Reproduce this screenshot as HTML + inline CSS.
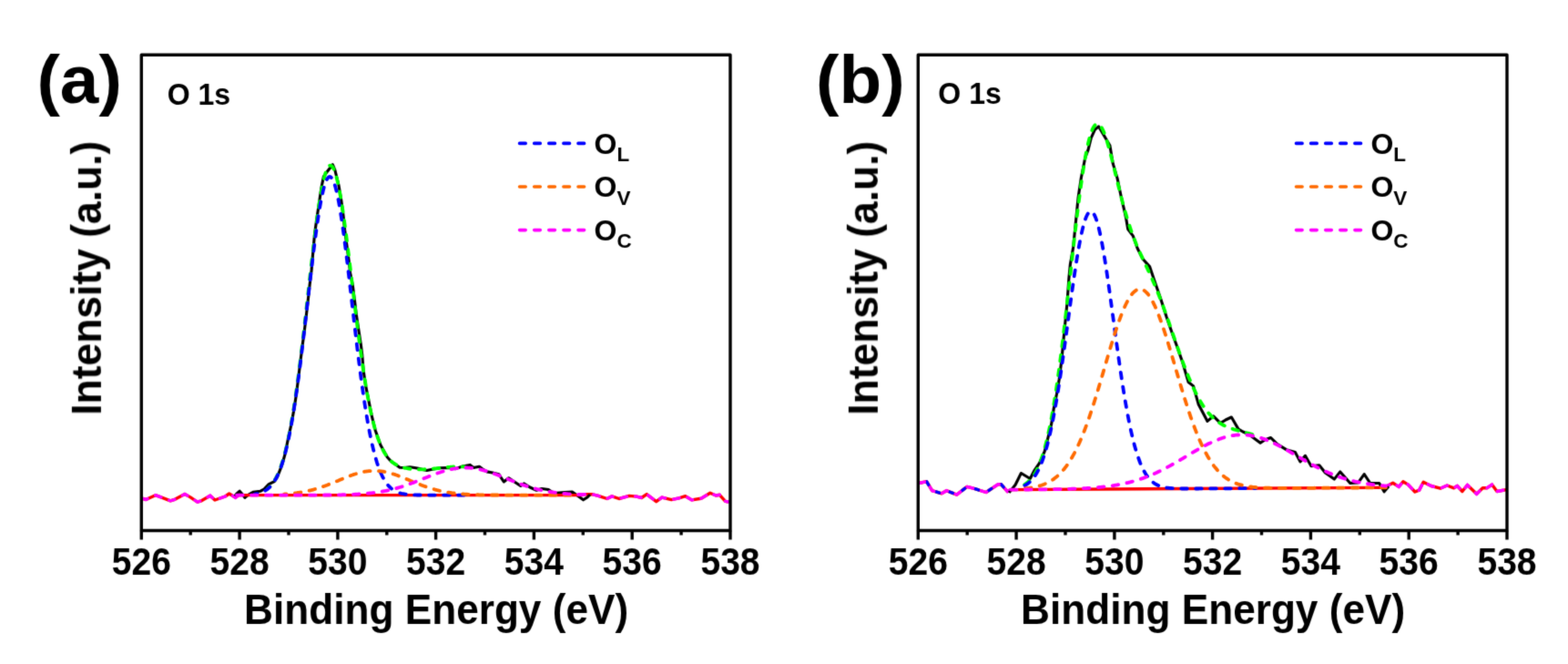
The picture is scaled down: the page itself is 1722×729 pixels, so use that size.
<!DOCTYPE html>
<html><head><meta charset="utf-8"><style>
html,body{margin:0;padding:0;background:#fff;}
svg{display:block;}
text{font-family:"Liberation Sans",Arial,sans-serif;font-weight:bold;fill:#000;}
.tk{font-size:42px;}
.ax{font-size:46.5px;}
.pl{font-size:75px;}
.o1{font-size:33.4px;}
.lg{font-size:32px;}
.sb{font-size:22.5px;}
</style></head><body>
<svg width="1722" height="729" viewBox="0 0 1722 729">
<defs><filter id="bl" filterUnits="userSpaceOnUse" x="0" y="0" width="1722" height="729" color-interpolation-filters="sRGB"><feConvolveMatrix order="3" kernelMatrix="0.01690 0.09620 0.01690 0.09620 0.54760 0.09620 0.01690 0.09620 0.01690" divisor="1" edgeMode="duplicate" preserveAlpha="false"/></filter></defs>
<rect width="1722" height="729" fill="#fff"/>
<g filter="url(#bl)">
<path d="M155.9 547.2L160.2 548.5L170.7 543.7L176.8 545.9L187.2 549.8L192.5 548.1L202.9 542.4L209.0 545.9L216.8 551.1L221.2 549.8L230.8 544.2L236.0 549.0L247.3 545.0L251.7 542.0L258.7 546.3L262.0 543.6" fill="none" stroke="#ff0000" stroke-width="3.4" stroke-linejoin="round"/>
<path d="M155.9 547.2L160.2 548.5L170.7 543.7L176.8 545.9L187.2 549.8L192.5 548.1L202.9 542.4L209.0 545.9L216.8 551.1L221.2 549.8L230.8 544.2L236.0 549.0L247.3 545.0L251.7 542.0L258.7 546.3L262.0 543.6" fill="none" stroke="#ff00ff" stroke-width="3.4" stroke-dasharray="6.6 9.4" stroke-linecap="round"/>
<path d="M636.0 543.8L641.0 542.7L650.2 542.7L657.1 544.4L666.7 547.5L672.0 544.9L679.8 547.5L691.1 544.4L699.1 545.1L704.6 546.5L710.2 542.6L720.7 550.7L726.9 546.1L737.4 548.6L745.7 546.8L752.7 544.7L759.7 548.9L770.1 547.2L779.9 541.3L786.2 544.0L790.3 543.3L796.6 550.3L800.0 551.0" fill="none" stroke="#ff0000" stroke-width="3.4" stroke-linejoin="round"/>
<path d="M636.0 543.8L641.0 542.7L650.2 542.7L657.1 544.4L666.7 547.5L672.0 544.9L679.8 547.5L691.1 544.4L699.1 545.1L704.6 546.5L710.2 542.6L720.7 550.7L726.9 546.1L737.4 548.6L745.7 546.8L752.7 544.7L759.7 548.9L770.1 547.2L779.9 541.3L786.2 544.0L790.3 543.3L796.6 550.3L800.0 551.0" fill="none" stroke="#ff00ff" stroke-width="3.4" stroke-dasharray="6.6 9.4" stroke-linecap="round"/>
<path d="M258.0 544.5L259.8 542.2L263.2 539.2L265.8 542.2L268.9 546.4L272.6 543.4L277.9 540.3L286.2 539.2L290.0 537.0L295.2 531.7L301.3 528.7L304.3 524.1L307.3 516.6L309.6 510.6L311.8 503.0L313.0 498.8L316.3 482.4L319.9 465.9L322.9 449.4L325.4 432.9L327.5 416.5L329.5 400.0L332.2 378.8L334.4 362.4L336.4 345.9L338.3 329.4L340.1 312.9L342.1 296.5L343.5 280.0L345.5 257.3L348.0 239.2L350.5 222.7L352.9 206.2L355.4 193.9L358.5 189.5L365.3 180.7L367.8 186.5L371.9 203.0L374.8 220.0L377.0 236.5L378.7 253.0L380.9 269.5L383.1 285.9L384.7 300.0L387.3 312.9L389.4 329.4L391.4 345.9L393.9 362.4L396.4 378.8L397.8 390.0L399.1 406.5L401.5 422.9L404.8 439.4L408.1 455.9L412.2 472.4L418.0 488.8L425.4 502.0L429.7 506.7L434.5 510.0L439.0 513.2L444.0 513.5L450.2 512.8L455.0 513.5L459.5 514.2L464.0 515.6L468.8 516.5L476.0 515.0L483.6 513.7L492.0 513.5L500.4 514.6L508.0 512.0L516.2 510.4L520.0 513.5L526.4 512.3L530.0 515.0L534.8 517.9L541.0 519.0L547.8 520.7L553.3 529.0L558.7 524.8L565.0 529.0L571.8 533.5L575.3 530.9L582.0 535.0L589.2 538.3L595.0 536.5L602.3 537.5L606.0 540.0L611.0 541.4L620.0 540.5L628.4 540.1L634.0 544.0L640.6 548.8L645.0 546.0L648.0 543.0" fill="none" stroke="#000" stroke-width="3.1" stroke-linejoin="round"/>
<path d="M260.0 543.6L640.0 543.6" fill="none" stroke="#ff0000" stroke-width="3.4"/>
<path d="M294.0 536.5L295.0 535.6L296.0 534.7L297.0 533.6L298.0 532.5L299.0 531.2L300.0 529.8L301.0 528.3L302.0 526.7L303.0 524.9L304.0 523.0L305.0 520.9L306.0 518.6L307.0 516.2L308.0 513.6L309.0 510.7L310.0 507.7L311.0 504.4L312.0 500.9L313.0 497.2L314.0 493.3L315.0 489.1L316.0 484.6L317.0 479.9L318.0 474.9L319.0 469.6L320.0 464.1L321.0 458.3L322.0 452.3L323.0 446.0L324.0 439.4L325.0 432.5L326.0 425.4L327.0 418.1L328.0 410.5L329.0 402.7L330.0 394.7L331.0 386.5L332.0 378.2L333.0 369.6L334.0 361.0L335.0 352.2L336.0 343.4L337.0 334.5L338.0 325.5L339.0 316.6L340.0 307.7L341.0 298.8L342.0 290.0L343.0 281.4L344.0 272.9L345.0 264.6L346.0 256.5L347.0 248.7L348.0 241.2L349.0 234.0L350.0 227.1L351.0 220.7L352.0 214.6L353.0 209.0L354.0 203.9L355.0 199.2L356.0 195.1L357.0 191.5L358.0 188.4L359.0 185.9L360.0 184.0L361.0 182.6L362.0 181.8L363.0 181.6L364.0 182.0L365.0 183.0L366.0 184.6L367.0 186.7L368.0 189.4L369.0 192.6L370.0 196.3L371.0 200.5L372.0 205.2L373.0 210.4L374.0 216.0L375.0 222.0L376.0 228.4L377.0 235.1L378.0 242.1L379.0 249.4L380.0 256.9L381.0 264.6L382.0 272.6L383.0 280.6L384.0 288.8L385.0 297.0L386.0 305.4L387.0 313.7L388.0 322.0L389.0 330.3L390.0 338.5L391.0 346.6L392.0 354.6L393.0 362.5L394.0 370.2L395.0 377.8L396.0 385.2L397.0 392.4L398.0 399.3L399.0 406.1L400.0 412.6L401.0 418.8L402.0 424.8L403.0 430.6L404.0 436.1L405.0 441.4L406.0 446.4L407.0 451.2L408.0 455.7L409.0 460.0L410.0 464.1L411.0 467.9L412.0 471.5L413.0 474.8L414.0 478.0L415.0 481.0L416.0 483.7L417.0 486.3L418.0 488.7L419.0 490.9L420.0 493.0L421.0 494.9L422.0 496.7L423.0 498.3L424.0 499.8L425.0 501.2L426.0 502.5L427.0 503.6L428.0 504.7L429.0 505.7L430.0 506.6L431.0 507.5L432.0 508.2L433.0 508.9L434.0 509.6L435.0 510.1L436.0 510.7L437.0 511.2L438.0 511.6L439.0 512.0L440.0 512.4L441.0 512.7L442.0 513.0L443.0 513.3L444.0 513.6L445.0 513.8L446.0 514.0L447.0 514.2L448.0 514.4L449.0 514.5L450.0 514.7L451.0 514.8L452.0 514.9L453.0 515.0L454.0 515.1L455.0 515.2L456.0 515.2L457.0 515.3L458.0 515.3L459.0 515.3L460.0 515.3L461.0 515.3L462.0 515.3L463.0 515.3L464.0 515.3L465.0 515.3L466.0 515.3L467.0 515.2L468.0 515.2L469.0 515.1L470.0 515.1L471.0 515.0L472.0 514.9L473.0 514.8L474.0 514.7L475.0 514.7L476.0 514.6L477.0 514.5L478.0 514.4L479.0 514.3L480.0 514.2L481.0 514.1L482.0 514.0L483.0 513.8L484.0 513.7L485.0 513.6L486.0 513.5L487.0 513.4L488.0 513.3L489.0 513.2L490.0 513.1L491.0 513.0L492.0 512.9L493.0 512.8L494.0 512.8L495.0 512.7L496.0 512.6L497.0 512.6L498.0 512.5L499.0 512.4L500.0 512.4L501.0 512.4L502.0 512.3L503.0 512.3L504.0 512.3L505.0 512.3L506.0 512.3L507.0 512.3L508.0 512.4L509.0 512.4L510.0 512.5" fill="none" stroke="#00ff00" stroke-width="3.8" stroke-dasharray="6.6 9.4" stroke-linecap="round" stroke-dashoffset="3.43"/>
<path d="M280.0 542.4L281.0 542.3L282.0 542.1L283.0 541.9L284.0 541.6L285.0 541.3L286.0 541.0L287.0 540.7L288.0 540.3L289.0 539.8L290.0 539.3L291.0 538.8L292.0 538.2L293.0 537.5L294.0 536.7L295.0 535.9L296.0 535.0L297.0 534.0L298.0 532.9L299.0 531.6L300.0 530.3L301.0 528.8L302.0 527.2L303.0 525.5L304.0 523.6L305.0 521.6L306.0 519.3L307.0 516.9L308.0 514.4L309.0 511.6L310.0 508.6L311.0 505.4L312.0 502.0L313.0 498.3L314.0 494.4L315.0 490.3L316.0 485.9L317.0 481.3L318.0 476.4L319.0 471.3L320.0 465.8L321.0 460.2L322.0 454.2L323.0 448.0L324.0 441.6L325.0 434.8L326.0 427.9L327.0 420.7L328.0 413.3L329.0 405.6L330.0 397.8L331.0 389.8L332.0 381.6L333.0 373.2L334.0 364.8L335.0 356.2L336.0 347.5L337.0 338.8L338.0 330.1L339.0 321.4L340.0 312.7L341.0 304.1L342.0 295.6L343.0 287.2L344.0 279.0L345.0 271.0L346.0 263.2L347.0 255.7L348.0 248.4L349.0 241.5L350.0 235.0L351.0 228.9L352.0 223.1L353.0 217.9L354.0 213.1L355.0 208.8L356.0 205.0L357.0 201.7L358.0 199.1L359.0 196.9L360.0 195.4L361.0 194.4L362.0 194.0L363.0 194.3L364.0 195.1L365.0 196.5L366.0 198.4L367.0 201.0L368.0 204.1L369.0 207.7L370.0 211.9L371.0 216.5L372.0 221.7L373.0 227.3L374.0 233.3L375.0 239.8L376.0 246.6L377.0 253.7L378.0 261.1L379.0 268.9L380.0 276.8L381.0 285.0L382.0 293.3L383.0 301.8L384.0 310.4L385.0 319.1L386.0 327.8L387.0 336.5L388.0 345.2L389.0 353.9L390.0 362.5L391.0 371.0L392.0 379.3L393.0 387.6L394.0 395.6L395.0 403.5L396.0 411.2L397.0 418.7L398.0 426.0L399.0 433.0L400.0 439.8L401.0 446.3L402.0 452.6L403.0 458.6L404.0 464.4L405.0 469.8L406.0 475.1L407.0 480.0L408.0 484.7L409.0 489.2L410.0 493.4L411.0 497.3L412.0 501.0L413.0 504.5L414.0 507.8L415.0 510.8L416.0 513.6L417.0 516.3L418.0 518.7L419.0 521.0L420.0 523.1L421.0 525.0L422.0 526.8L423.0 528.4L424.0 529.9L425.0 531.3L426.0 532.5L427.0 533.7L428.0 534.7L429.0 535.7L430.0 536.5" fill="none" stroke="#0000ff" stroke-width="3.8" stroke-dasharray="6.6 9.4" stroke-linecap="round" stroke-dashoffset="4.05"/>
<path d="M432.0 538.0L433.0 538.6L434.0 539.2L435.0 539.7L436.0 540.2L437.0 540.6L438.0 540.9L439.0 541.3L440.0 541.5L441.0 541.8L442.0 542.0L443.0 542.2L444.0 542.4L445.0 542.6L446.0 542.7L447.0 542.8L448.0 542.9L449.0 543.0L450.0 543.1L451.0 543.2L452.0 543.2L453.0 543.3L454.0 543.3L455.0 543.4L456.0 543.4L457.0 543.4L458.0 543.5L459.0 543.5L460.0 543.5L461.0 543.5L462.0 543.5L463.0 543.5L464.0 543.5L465.0 543.6L466.0 543.6L467.0 543.6L468.0 543.6L469.0 543.6L470.0 543.6L471.0 543.6L472.0 543.6L473.0 543.6L474.0 543.6L475.0 543.6L476.0 543.6L477.0 543.6L478.0 543.6L479.0 543.6L480.0 543.6L481.0 543.6L482.0 543.6L483.0 543.6L484.0 543.6L485.0 543.6L486.0 543.6L487.0 543.6L488.0 543.6L489.0 543.6L490.0 543.6L491.0 543.6L492.0 543.6L493.0 543.6L494.0 543.6L495.0 543.6L496.0 543.6L497.0 543.6L498.0 543.6L499.0 543.6L500.0 543.6L501.0 543.6L502.0 543.6L503.0 543.6L504.0 543.6L505.0 543.6L506.0 543.6L507.0 543.6L508.0 543.6L509.0 543.6L510.0 543.6" fill="none" stroke="#0000ff" stroke-width="3.8" stroke-dasharray="6.6 9.4" stroke-linecap="round" stroke-dashoffset="7.95"/>
<path d="M312.0 542.6L313.0 542.5L314.0 542.4L315.0 542.3L316.0 542.3L317.0 542.2L318.0 542.1L319.0 542.0L320.0 541.9L321.0 541.8L322.0 541.7L323.0 541.5L324.0 541.4L325.0 541.3L326.0 541.2L327.0 541.0L328.0 540.9L329.0 540.7L330.0 540.6L331.0 540.4L332.0 540.2L333.0 540.0L334.0 539.8L335.0 539.7L336.0 539.4L337.0 539.2L338.0 539.0L339.0 538.8L340.0 538.6L341.0 538.3L342.0 538.1L343.0 537.8L344.0 537.6L345.0 537.3L346.0 537.0L347.0 536.7L348.0 536.4L349.0 536.1L350.0 535.8L351.0 535.5L352.0 535.2L353.0 534.8L354.0 534.5L355.0 534.1L356.0 533.8L357.0 533.4L358.0 533.0L359.0 532.7L360.0 532.3L361.0 531.9L362.0 531.5L363.0 531.1L364.0 530.7L365.0 530.3L366.0 529.9L367.0 529.5L368.0 529.1L369.0 528.7L370.0 528.3L371.0 527.9L372.0 527.4L373.0 527.0L374.0 526.6L375.0 526.2L376.0 525.8L377.0 525.4L378.0 524.9L379.0 524.5L380.0 524.1L381.0 523.7L382.0 523.3L383.0 523.0L384.0 522.6L385.0 522.2L386.0 521.8L387.0 521.5L388.0 521.1L389.0 520.8L390.0 520.5L391.0 520.2L392.0 519.9L393.0 519.6L394.0 519.3L395.0 519.0L396.0 518.8L397.0 518.5L398.0 518.3L399.0 518.1L400.0 517.9L401.0 517.7L402.0 517.6L403.0 517.4L404.0 517.3L405.0 517.2L406.0 517.1L407.0 517.0L408.0 516.9L409.0 516.9L410.0 516.9L411.0 516.8L412.0 516.9L413.0 516.9L414.0 516.9L415.0 517.0L416.0 517.1L417.0 517.2L418.0 517.3L419.0 517.4L420.0 517.6L421.0 517.7L422.0 517.9L423.0 518.1L424.0 518.3L425.0 518.5L426.0 518.8L427.0 519.0L428.0 519.3L429.0 519.6L430.0 519.9L431.0 520.2L432.0 520.5L433.0 520.8L434.0 521.1L435.0 521.5L436.0 521.8L437.0 522.2L438.0 522.6L439.0 523.0L440.0 523.3L441.0 523.7L442.0 524.1L443.0 524.5L444.0 524.9L445.0 525.4L446.0 525.8L447.0 526.2L448.0 526.6L449.0 527.0L450.0 527.4L451.0 527.9L452.0 528.3L453.0 528.7" fill="none" stroke="#ff6a00" stroke-width="3.8" stroke-dasharray="6.6 9.4" stroke-linecap="round" stroke-dashoffset="4.02"/>
<path d="M457.0 530.3L458.0 530.7L459.0 531.1L460.0 531.5L461.0 531.9L462.0 532.3L463.0 532.7L464.0 533.0L465.0 533.4L466.0 533.8L467.0 534.1L468.0 534.5L469.0 534.8L470.0 535.2L471.0 535.5L472.0 535.8L473.0 536.1L474.0 536.4L475.0 536.7L476.0 537.0L477.0 537.3L478.0 537.6L479.0 537.8L480.0 538.1L481.0 538.3L482.0 538.6L483.0 538.8L484.0 539.0L485.0 539.2L486.0 539.4L487.0 539.7L488.0 539.8L489.0 540.0L490.0 540.2L491.0 540.4L492.0 540.6L493.0 540.7L494.0 540.9L495.0 541.0L496.0 541.2L497.0 541.3L498.0 541.4L499.0 541.5L500.0 541.7L501.0 541.8L502.0 541.9L503.0 542.0L504.0 542.1L505.0 542.2L506.0 542.3L507.0 542.3L508.0 542.4L509.0 542.5L510.0 542.6L511.0 542.6L512.0 542.7L513.0 542.7L514.0 542.8L515.0 542.9L516.0 542.9L517.0 543.0L518.0 543.0L519.0 543.0L520.0 543.1L521.0 543.1L522.0 543.1L523.0 543.2L524.0 543.2L525.0 543.2L526.0 543.3L527.0 543.3L528.0 543.3L529.0 543.3L530.0 543.4L531.0 543.4L532.0 543.4L533.0 543.4L534.0 543.4L535.0 543.4L536.0 543.4L537.0 543.5L538.0 543.5L539.0 543.5L540.0 543.5L541.0 543.5L542.0 543.5L543.0 543.5L544.0 543.5L545.0 543.5L546.0 543.5L547.0 543.5L548.0 543.5L549.0 543.6L550.0 543.6L551.0 543.6L552.0 543.6L553.0 543.6L554.0 543.6L555.0 543.6L556.0 543.6L557.0 543.6L558.0 543.6L559.0 543.6L560.0 543.6L561.0 543.6L562.0 543.6L563.0 543.6L564.0 543.6L565.0 543.6L566.0 543.6L567.0 543.6L568.0 543.6L569.0 543.6L570.0 543.6L571.0 543.6L572.0 543.6L573.0 543.6L574.0 543.6L575.0 543.6L576.0 543.6L577.0 543.6L578.0 543.6L579.0 543.6L580.0 543.6L581.0 543.6L582.0 543.6L583.0 543.6L584.0 543.6L585.0 543.6L586.0 543.6L587.0 543.6L588.0 543.6L589.0 543.6L590.0 543.6L591.0 543.6L592.0 543.6L593.0 543.6L594.0 543.6L595.0 543.6L596.0 543.6L597.0 543.6L598.0 543.6L599.0 543.6L600.0 543.6L601.0 543.6L602.0 543.6L603.0 543.6L604.0 543.6L605.0 543.6L606.0 543.6L607.0 543.6L608.0 543.6L609.0 543.6L610.0 543.6L611.0 543.6L612.0 543.6L613.0 543.6L614.0 543.6L615.0 543.6L616.0 543.6L617.0 543.6L618.0 543.6L619.0 543.6L620.0 543.6L621.0 543.6L622.0 543.6L623.0 543.6L624.0 543.6L625.0 543.6L626.0 543.6L627.0 543.6L628.0 543.6L629.0 543.6" fill="none" stroke="#ff6a00" stroke-width="3.8" stroke-dasharray="6.6 9.4" stroke-linecap="round" stroke-dashoffset="11.24"/>
<path d="M260.0 543.6L261.0 543.6L262.0 543.6L263.0 543.6L264.0 543.6L265.0 543.6L266.0 543.6L267.0 543.6L268.0 543.6L269.0 543.6L270.0 543.6L271.0 543.6L272.0 543.6L273.0 543.6L274.0 543.6L275.0 543.6L276.0 543.6L277.0 543.6L278.0 543.6L279.0 543.6L280.0 543.6L281.0 543.6L282.0 543.6L283.0 543.6L284.0 543.6L285.0 543.6L286.0 543.6L287.0 543.6L288.0 543.6L289.0 543.6L290.0 543.6L291.0 543.6L292.0 543.6L293.0 543.6L294.0 543.6L295.0 543.6L296.0 543.6L297.0 543.6L298.0 543.6L299.0 543.6L300.0 543.6L301.0 543.6L302.0 543.6L303.0 543.6L304.0 543.6L305.0 543.6L306.0 543.6L307.0 543.6L308.0 543.6L309.0 543.6L310.0 543.6L311.0 543.6L312.0 543.6L313.0 543.6L314.0 543.6L315.0 543.6L316.0 543.6L317.0 543.6L318.0 543.6L319.0 543.6L320.0 543.6L321.0 543.6L322.0 543.6L323.0 543.6L324.0 543.6L325.0 543.6L326.0 543.6L327.0 543.6L328.0 543.6L329.0 543.6L330.0 543.6L331.0 543.6L332.0 543.6L333.0 543.6L334.0 543.6L335.0 543.6L336.0 543.6L337.0 543.6L338.0 543.6L339.0 543.6L340.0 543.6L341.0 543.6L342.0 543.6L343.0 543.6L344.0 543.6L345.0 543.6L346.0 543.6L347.0 543.6L348.0 543.6L349.0 543.5L350.0 543.5L351.0 543.5L352.0 543.5L353.0 543.5L354.0 543.5L355.0 543.5L356.0 543.5L357.0 543.5L358.0 543.5L359.0 543.5L360.0 543.5L361.0 543.5L362.0 543.5L363.0 543.5L364.0 543.4L365.0 543.4L366.0 543.4L367.0 543.4L368.0 543.4L369.0 543.4L370.0 543.4L371.0 543.3L372.0 543.3L373.0 543.3L374.0 543.3L375.0 543.3L376.0 543.2L377.0 543.2L378.0 543.2L379.0 543.2L380.0 543.1L381.0 543.1L382.0 543.1L383.0 543.0L384.0 543.0L385.0 543.0L386.0 542.9L387.0 542.9L388.0 542.8L389.0 542.8L390.0 542.7L391.0 542.7L392.0 542.6L393.0 542.6L394.0 542.5L395.0 542.4L396.0 542.4L397.0 542.3L398.0 542.2L399.0 542.2L400.0 542.1L401.0 542.0L402.0 541.9L403.0 541.8L404.0 541.7L405.0 541.6L406.0 541.5L407.0 541.4L408.0 541.3L409.0 541.2L410.0 541.1L411.0 540.9L412.0 540.8L413.0 540.7L414.0 540.5L415.0 540.4L416.0 540.2L417.0 540.1L418.0 539.9L419.0 539.7L420.0 539.5L421.0 539.4L422.0 539.2L423.0 539.0L424.0 538.8L425.0 538.6L426.0 538.4L427.0 538.1L428.0 537.9L429.0 537.7L430.0 537.4L431.0 537.2L432.0 536.9L433.0 536.7L434.0 536.4L435.0 536.2L436.0 535.9L437.0 535.6L438.0 535.3L439.0 535.0L440.0 534.7L441.0 534.4L442.0 534.1L443.0 533.8L444.0 533.4L445.0 533.1L446.0 532.8L447.0 532.4L448.0 532.1L449.0 531.7L450.0 531.3L451.0 531.0L452.0 530.6L453.0 530.2L454.0 529.9L455.0 529.5L456.0 529.1L457.0 528.7L458.0 528.3L459.0 527.9L460.0 527.5L461.0 527.1L462.0 526.7L463.0 526.3L464.0 525.9L465.0 525.5L466.0 525.1L467.0 524.7L468.0 524.3L469.0 523.9L470.0 523.5L471.0 523.1L472.0 522.7L473.0 522.3L474.0 521.9L475.0 521.6L476.0 521.2L477.0 520.8L478.0 520.4L479.0 520.1L480.0 519.7L481.0 519.3L482.0 519.0L483.0 518.7L484.0 518.3L485.0 518.0L486.0 517.7L487.0 517.4L488.0 517.1L489.0 516.8L490.0 516.5L491.0 516.2L492.0 516.0L493.0 515.7L494.0 515.5L495.0 515.3L496.0 515.1L497.0 514.9L498.0 514.7L499.0 514.5L500.0 514.3L501.0 514.2L502.0 514.1L503.0 513.9L504.0 513.8L505.0 513.7L506.0 513.7L507.0 513.6L508.0 513.6L509.0 513.5L510.0 513.5L511.0 513.5L512.0 513.5L513.0 513.5L514.0 513.6L515.0 513.6L516.0 513.7L517.0 513.8L518.0 513.9L519.0 514.0L520.0 514.1L521.0 514.3L522.0 514.4L523.0 514.6L524.0 514.8L525.0 514.9L526.0 515.2L527.0 515.4L528.0 515.6L529.0 515.8L530.0 516.1L531.0 516.4L532.0 516.6L533.0 516.9L534.0 517.2L535.0 517.5L536.0 517.8L537.0 518.1L538.0 518.5L539.0 518.8L540.0 519.1L541.0 519.5L542.0 519.9L543.0 520.2L544.0 520.6L545.0 521.0L546.0 521.3L547.0 521.7L548.0 522.1L549.0 522.5L550.0 522.9L551.0 523.3L552.0 523.7L553.0 524.1L554.0 524.5L555.0 524.9L556.0 525.3L557.0 525.7L558.0 526.1L559.0 526.5L560.0 526.9L561.0 527.3L562.0 527.7L563.0 528.1L564.0 528.5L565.0 528.9L566.0 529.3L567.0 529.6L568.0 530.0L569.0 530.4L570.0 530.8L571.0 531.1L572.0 531.5L573.0 531.9L574.0 532.2L575.0 532.6L576.0 532.9L577.0 533.2L578.0 533.6L579.0 533.9L580.0 534.2L581.0 534.5L582.0 534.8L583.0 535.1L584.0 535.4L585.0 535.7L586.0 536.0L587.0 536.3L588.0 536.5L589.0 536.8L590.0 537.1L591.0 537.3L592.0 537.5L593.0 537.8L594.0 538.0L595.0 538.2L596.0 538.4L597.0 538.7L598.0 538.9L599.0 539.1L600.0 539.3L601.0 539.4L602.0 539.6L603.0 539.8L604.0 540.0L605.0 540.1L606.0 540.3L607.0 540.4L608.0 540.6L609.0 540.7L610.0 540.9L611.0 541.0L612.0 541.1L613.0 541.2L614.0 541.3L615.0 541.5L616.0 541.6L617.0 541.7L618.0 541.8L619.0 541.9L620.0 541.9L621.0 542.0L622.0 542.1L623.0 542.2L624.0 542.3L625.0 542.3L626.0 542.4L627.0 542.5L628.0 542.5L629.0 542.6L630.0 542.6L631.0 542.7L632.0 542.8L633.0 542.8L634.0 542.8L635.0 542.9L636.0 542.9L637.0 543.0L638.0 543.0L639.0 543.0L640.0 543.1" fill="none" stroke="#ff00ff" stroke-width="3.8" stroke-dasharray="6.6 9.4" stroke-linecap="round" stroke-dashoffset="0.00"/>
<rect x="155.3" y="60.2" width="646.7" height="522.3" fill="none" stroke="#000" stroke-width="3.4" stroke-linejoin="round"/>
<line x1="155.3" y1="582.5" x2="155.3" y2="592.5" stroke="#000" stroke-width="3.4"/>
<text transform="translate(155.3,630.6) scale(0.93,1)" class="tk" text-anchor="middle">526</text>
<line x1="209.2" y1="582.5" x2="209.2" y2="587.5" stroke="#000" stroke-width="3.4"/>
<line x1="263.1" y1="582.5" x2="263.1" y2="592.5" stroke="#000" stroke-width="3.4"/>
<text transform="translate(263.1,630.6) scale(0.93,1)" class="tk" text-anchor="middle">528</text>
<line x1="317.0" y1="582.5" x2="317.0" y2="587.5" stroke="#000" stroke-width="3.4"/>
<line x1="370.9" y1="582.5" x2="370.9" y2="592.5" stroke="#000" stroke-width="3.4"/>
<text transform="translate(370.9,630.6) scale(0.93,1)" class="tk" text-anchor="middle">530</text>
<line x1="424.8" y1="582.5" x2="424.8" y2="587.5" stroke="#000" stroke-width="3.4"/>
<line x1="478.6" y1="582.5" x2="478.6" y2="592.5" stroke="#000" stroke-width="3.4"/>
<text transform="translate(478.6,630.6) scale(0.93,1)" class="tk" text-anchor="middle">532</text>
<line x1="532.5" y1="582.5" x2="532.5" y2="587.5" stroke="#000" stroke-width="3.4"/>
<line x1="586.4" y1="582.5" x2="586.4" y2="592.5" stroke="#000" stroke-width="3.4"/>
<text transform="translate(586.4,630.6) scale(0.93,1)" class="tk" text-anchor="middle">534</text>
<line x1="640.3" y1="582.5" x2="640.3" y2="587.5" stroke="#000" stroke-width="3.4"/>
<line x1="694.2" y1="582.5" x2="694.2" y2="592.5" stroke="#000" stroke-width="3.4"/>
<text transform="translate(694.2,630.6) scale(0.93,1)" class="tk" text-anchor="middle">536</text>
<line x1="748.1" y1="582.5" x2="748.1" y2="587.5" stroke="#000" stroke-width="3.4"/>
<line x1="802.0" y1="582.5" x2="802.0" y2="592.5" stroke="#000" stroke-width="3.4"/>
<text transform="translate(802.0,630.6) scale(0.93,1)" class="tk" text-anchor="middle">538</text>
<text transform="translate(479.1,684.5) scale(0.95,1)" class="ax" text-anchor="middle">Binding Energy (eV)</text>
<path d="M1009.0 530.5L1011.5 530.0L1017.6 528.7L1023.7 538.7L1034.1 541.8L1039.4 538.7L1050.7 543.1L1062.0 534.4L1069.0 536.1L1082.9 540.5L1096.0 531.8L1099.5 531.8L1106.4 539.6L1110.0 537.6" fill="none" stroke="#ff0000" stroke-width="3.4" stroke-linejoin="round"/>
<path d="M1009.0 530.5L1011.5 530.0L1017.6 528.7L1023.7 538.7L1034.1 541.8L1039.4 538.7L1050.7 543.1L1062.0 534.4L1069.0 536.1L1082.9 540.5L1096.0 531.8L1099.5 531.8L1106.4 539.6L1110.0 537.6" fill="none" stroke="#0000ff" stroke-width="3.4" stroke-dasharray="4 12" stroke-linecap="round" stroke-dashoffset="-9"/>
<path d="M1009.0 530.5L1011.5 530.0L1017.6 528.7L1023.7 538.7L1034.1 541.8L1039.4 538.7L1050.7 543.1L1062.0 534.4L1069.0 536.1L1082.9 540.5L1096.0 531.8L1099.5 531.8L1106.4 539.6L1110.0 537.6" fill="none" stroke="#ff00ff" stroke-width="3.4" stroke-dasharray="6.6 9.4" stroke-linecap="round"/>
<path d="M1520.0 535.3L1529.7 530.2L1536.2 534.4L1540.9 528.8L1546.5 532.1L1553.9 540.0L1558.6 538.1L1563.2 529.3L1571.6 533.5L1581.8 536.2L1589.2 533.0L1596.7 535.8L1600.4 533.5L1605.9 539.5L1611.5 532.5L1621.7 542.3L1628.3 535.8L1632.9 535.8L1638.5 532.1L1644.0 539.5L1654.3 537.6" fill="none" stroke="#ff0000" stroke-width="3.4" stroke-linejoin="round"/>
<path d="M1520.0 535.3L1529.7 530.2L1536.2 534.4L1540.9 528.8L1546.5 532.1L1553.9 540.0L1558.6 538.1L1563.2 529.3L1571.6 533.5L1581.8 536.2L1589.2 533.0L1596.7 535.8L1600.4 533.5L1605.9 539.5L1611.5 532.5L1621.7 542.3L1628.3 535.8L1632.9 535.8L1638.5 532.1L1644.0 539.5L1654.3 537.6" fill="none" stroke="#ff00ff" stroke-width="3.4" stroke-dasharray="6.6 9.4" stroke-linecap="round"/>
<path d="M1108.2 540.9L1115.1 532.3L1121.4 519.5L1131.3 525.5L1135.7 517.0L1141.4 508.7L1147.2 495.6L1151.3 479.1L1154.6 465.9L1157.1 449.4L1160.4 433.0L1163.2 416.5L1165.3 400.0L1166.4 390.0L1168.8 364.1L1170.5 347.7L1172.1 331.2L1173.8 306.5L1175.4 290.0L1178.6 271.9L1181.9 238.9L1184.1 216.9L1187.4 195.0L1191.8 173.0L1195.0 164.6L1198.3 151.4L1202.4 142.4L1206.5 138.8L1218.9 159.7L1222.2 179.4L1227.1 195.9L1231.2 215.7L1235.4 233.8L1236.7 240.0L1238.7 251.5L1244.4 259.2L1249.2 272.7L1255.0 284.2L1262.7 292.9L1267.5 307.3L1274.2 326.5L1281.0 347.7L1287.7 366.9L1292.5 380.0L1298.6 397.6L1305.1 419.5L1310.6 423.9L1316.1 443.7L1321.0 453.0L1326.0 462.4L1332.6 456.9L1340.3 464.6L1346.0 461.0L1352.4 458.0L1360.0 471.1L1365.0 474.0L1371.0 476.6L1377.0 481.0L1384.1 486.3L1389.0 483.0L1395.6 480.5L1402.7 487.7L1412.6 493.7L1422.4 496.5L1427.9 506.9L1433.4 500.3L1440.0 511.8L1448.8 510.7L1455.4 519.0L1465.3 526.1L1471.8 517.9L1482.8 530.5L1491.6 529.9L1498.2 520.6L1504.8 530.5L1514.7 530.5L1520.1 539.8L1525.0 534.0" fill="none" stroke="#000" stroke-width="3.1" stroke-linejoin="round"/>
<path d="M1110.0 537.6L1522.0 535.3" fill="none" stroke="#ff0000" stroke-width="3.4"/>
<path d="M1124.0 532.7L1125.0 532.1L1126.0 531.5L1127.0 530.8L1128.0 530.0L1129.0 529.2L1130.0 528.2L1131.0 527.2L1132.0 526.1L1133.0 524.9L1134.0 523.6L1135.0 522.2L1136.0 520.6L1137.0 519.0L1138.0 517.2L1139.0 515.2L1140.0 513.1L1141.0 510.8L1142.0 508.3L1143.0 505.7L1144.0 502.9L1145.0 499.9L1146.0 496.7L1147.0 493.2L1148.0 489.6L1149.0 485.7L1150.0 481.6L1151.0 477.3L1152.0 472.7L1153.0 467.9L1154.0 462.8L1155.0 457.5L1156.0 451.9L1157.0 446.1L1158.0 440.0L1159.0 433.7L1160.0 427.1L1161.0 420.3L1162.0 413.2L1163.0 405.9L1164.0 398.4L1165.0 390.7L1166.0 382.8L1167.0 374.7L1168.0 366.4L1169.0 358.0L1170.0 349.4L1171.0 340.7L1172.0 331.9L1173.0 323.1L1174.0 314.1L1175.0 305.2L1176.0 296.2L1177.0 287.3L1178.0 278.3L1179.0 269.5L1180.0 260.7L1181.0 252.1L1182.0 243.6L1183.0 235.3L1184.0 227.2L1185.0 219.3L1186.0 211.6L1187.0 204.3L1188.0 197.2L1189.0 190.4L1190.0 184.0L1191.0 177.9L1192.0 172.2L1193.0 166.9L1194.0 162.0L1195.0 157.5L1196.0 153.4L1197.0 149.7L1198.0 146.5L1199.0 143.7L1200.0 141.4L1201.0 139.4L1202.0 137.9L1203.0 136.9L1204.0 136.2L1205.0 136.0L1206.0 136.2L1207.0 136.7L1208.0 137.6L1209.0 138.9L1210.0 140.5L1211.0 142.4L1212.0 144.6L1213.0 147.1L1214.0 149.9L1215.0 152.9L1216.0 156.0L1217.0 159.4L1218.0 163.0L1219.0 166.7L1220.0 170.5L1221.0 174.4L1222.0 178.4L1223.0 182.4L1224.0 186.5L1225.0 190.7L1226.0 194.8L1227.0 198.9L1228.0 203.0L1229.0 207.0L1230.0 211.0L1231.0 215.0L1232.0 218.9L1233.0 222.7L1234.0 226.4L1235.0 230.0L1236.0 233.5L1237.0 236.9L1238.0 240.3L1239.0 243.5L1240.0 246.6L1241.0 249.7L1242.0 252.6L1243.0 255.4L1244.0 258.2L1245.0 260.8L1246.0 263.4L1247.0 265.9L1248.0 268.4L1249.0 270.7L1250.0 273.1L1251.0 275.3L1252.0 277.6L1253.0 279.8L1254.0 281.9L1255.0 284.1L1256.0 286.2L1257.0 288.3L1258.0 290.5L1259.0 292.6L1260.0 294.7L1261.0 296.9L1262.0 299.0L1263.0 301.2L1264.0 303.4L1265.0 305.6L1266.0 307.9L1267.0 310.2L1268.0 312.6L1269.0 314.9L1270.0 317.3L1271.0 319.8L1272.0 322.3L1273.0 324.8L1274.0 327.4L1275.0 330.0L1276.0 332.7L1277.0 335.3L1278.0 338.1L1279.0 340.8L1280.0 343.6L1281.0 346.4L1282.0 349.2L1283.0 352.0L1284.0 354.9L1285.0 357.8L1286.0 360.7L1287.0 363.6L1288.0 366.5L1289.0 369.4L1290.0 372.3L1291.0 375.1L1292.0 378.0L1293.0 380.9L1294.0 383.7L1295.0 386.6L1296.0 389.4L1297.0 392.1L1298.0 394.9L1299.0 397.6L1300.0 400.3L1301.0 402.9L1302.0 405.5L1303.0 408.1L1304.0 410.6L1305.0 413.1L1306.0 415.5L1307.0 417.8L1308.0 420.1L1309.0 422.4L1310.0 424.6L1311.0 426.8L1312.0 428.8L1313.0 430.9L1314.0 432.8L1315.0 434.8L1316.0 436.6L1317.0 438.4L1318.0 440.1L1319.0 441.8L1320.0 443.4L1321.0 445.0L1322.0 446.5L1323.0 447.9L1324.0 449.3L1325.0 450.7L1326.0 451.9L1327.0 453.2L1328.0 454.3L1329.0 455.4L1330.0 456.5L1331.0 457.5L1332.0 458.5L1333.0 459.4L1334.0 460.3L1335.0 461.1L1336.0 461.9L1337.0 462.7L1338.0 463.4L1339.0 464.1L1340.0 464.7L1341.0 465.4L1342.0 465.9L1343.0 466.5L1344.0 467.0L1345.0 467.5L1346.0 468.0L1347.0 468.4L1348.0 468.9L1349.0 469.3L1350.0 469.7L1351.0 470.0L1352.0 470.4L1353.0 470.7L1354.0 471.0L1355.0 471.4L1356.0 471.7L1357.0 472.0L1358.0 472.2L1359.0 472.5L1360.0 472.8L1361.0 473.1L1362.0 473.3L1363.0 473.6L1364.0 473.9L1365.0 474.1L1366.0 474.4L1367.0 474.7L1368.0 474.9L1369.0 475.2L1370.0 475.5L1371.0 475.7L1372.0 476.0L1373.0 476.3L1374.0 476.6L1375.0 476.9L1376.0 477.2L1377.0 477.5L1378.0 477.8L1379.0 478.1" fill="none" stroke="#00ff00" stroke-width="3.8" stroke-dasharray="6.6 9.4" stroke-linecap="round" stroke-dashoffset="14.65"/>
<path d="M1117.0 536.0L1118.0 535.7L1119.0 535.5L1120.0 535.2L1121.0 534.9L1122.0 534.5L1123.0 534.1L1124.0 533.7L1125.0 533.2L1126.0 532.7L1127.0 532.1L1128.0 531.4L1129.0 530.7L1130.0 529.9L1131.0 529.0L1132.0 528.1L1133.0 527.1L1134.0 525.9L1135.0 524.7L1136.0 523.3L1137.0 521.9L1138.0 520.3L1139.0 518.5L1140.0 516.7L1141.0 514.7L1142.0 512.5L1143.0 510.2L1144.0 507.7L1145.0 505.0L1146.0 502.2L1147.0 499.2L1148.0 495.9L1149.0 492.5L1150.0 488.9L1151.0 485.1L1152.0 481.0L1153.0 476.8L1154.0 472.3L1155.0 467.6L1156.0 462.7L1157.0 457.5L1158.0 452.2L1159.0 446.6L1160.0 440.9L1161.0 434.9L1162.0 428.8L1163.0 422.4L1164.0 415.9L1165.0 409.2L1166.0 402.4L1167.0 395.4L1168.0 388.3L1169.0 381.1L1170.0 373.8L1171.0 366.5L1172.0 359.1L1173.0 351.7L1174.0 344.3L1175.0 336.9L1176.0 329.6L1177.0 322.3L1178.0 315.2L1179.0 308.1L1180.0 301.3L1181.0 294.6L1182.0 288.1L1183.0 281.9L1184.0 275.9L1185.0 270.2L1186.0 264.9L1187.0 259.9L1188.0 255.2L1189.0 250.9L1190.0 247.0L1191.0 243.6L1192.0 240.5L1193.0 237.9L1194.0 235.8L1195.0 234.2L1196.0 233.0L1197.0 232.3L1198.0 232.1L1199.0 232.4L1200.0 233.2L1201.0 234.4L1202.0 236.2L1203.0 238.4L1204.0 241.1L1205.0 244.2L1206.0 247.7L1207.0 251.7L1208.0 256.0L1209.0 260.8L1210.0 265.9L1211.0 271.3L1212.0 277.0L1213.0 283.0L1214.0 289.3L1215.0 295.8L1216.0 302.5L1217.0 309.4L1218.0 316.4L1219.0 323.6L1220.0 330.9L1221.0 338.2L1222.0 345.6L1223.0 353.0L1224.0 360.4L1225.0 367.8L1226.0 375.1L1227.0 382.3L1228.0 389.5L1229.0 396.5L1230.0 403.5L1231.0 410.3L1232.0 416.9L1233.0 423.4L1234.0 429.7L1235.0 435.8L1236.0 441.7L1237.0 447.4L1238.0 452.9L1239.0 458.2L1240.0 463.3L1241.0 468.1L1242.0 472.8L1243.0 477.2L1244.0 481.4L1245.0 485.4L1246.0 489.2L1247.0 492.7L1248.0 496.1L1249.0 499.3L1250.0 502.2L1251.0 505.0L1252.0 507.7L1253.0 510.1L1254.0 512.4L1255.0 514.5L1256.0 516.4L1257.0 518.3L1258.0 519.9L1259.0 521.5L1260.0 522.9L1261.0 524.2L1262.0 525.5L1263.0 526.6L1264.0 527.6L1265.0 528.5L1266.0 529.3L1267.0 530.1L1268.0 530.8L1269.0 531.4L1270.0 532.0L1271.0 532.5L1272.0 533.0L1273.0 533.4L1274.0 533.8L1275.0 534.1L1276.0 534.4L1277.0 534.7L1278.0 534.9L1279.0 535.1L1280.0 535.3L1281.0 535.5L1282.0 535.6L1283.0 535.7L1284.0 535.8L1285.0 535.9L1286.0 536.0L1287.0 536.1L1288.0 536.2L1289.0 536.2L1290.0 536.3L1291.0 536.3L1292.0 536.3L1293.0 536.4L1294.0 536.4L1295.0 536.4L1296.0 536.4L1297.0 536.4L1298.0 536.5L1299.0 536.5L1300.0 536.5L1301.0 536.5L1302.0 536.5L1303.0 536.5L1304.0 536.5L1305.0 536.5L1306.0 536.5L1307.0 536.5L1308.0 536.5L1309.0 536.5L1310.0 536.5L1311.0 536.5L1312.0 536.5L1313.0 536.5L1314.0 536.5L1315.0 536.5L1316.0 536.5L1317.0 536.4L1318.0 536.4L1319.0 536.4L1320.0 536.4L1321.0 536.4L1322.0 536.4L1323.0 536.4L1324.0 536.4L1325.0 536.4L1326.0 536.4L1327.0 536.4L1328.0 536.4L1329.0 536.4L1330.0 536.4L1331.0 536.4L1332.0 536.4L1333.0 536.4L1334.0 536.4L1335.0 536.4L1336.0 536.3L1337.0 536.3L1338.0 536.3L1339.0 536.3L1340.0 536.3L1341.0 536.3L1342.0 536.3L1343.0 536.3L1344.0 536.3L1345.0 536.3L1346.0 536.3L1347.0 536.3L1348.0 536.3L1349.0 536.3L1350.0 536.3L1351.0 536.3L1352.0 536.3L1353.0 536.3L1354.0 536.2L1355.0 536.2L1356.0 536.2L1357.0 536.2L1358.0 536.2L1359.0 536.2L1360.0 536.2L1361.0 536.2L1362.0 536.2L1363.0 536.2L1364.0 536.2L1365.0 536.2L1366.0 536.2L1367.0 536.2L1368.0 536.2L1369.0 536.2L1370.0 536.2L1371.0 536.2L1372.0 536.1L1373.0 536.1L1374.0 536.1L1375.0 536.1L1376.0 536.1L1377.0 536.1L1378.0 536.1L1379.0 536.1" fill="none" stroke="#0000ff" stroke-width="3.8" stroke-dasharray="6.6 9.4" stroke-linecap="round" stroke-dashoffset="7.08"/>
<path d="M1125.0 536.4L1126.0 536.3L1127.0 536.2L1128.0 536.1L1129.0 536.0L1130.0 535.8L1131.0 535.7L1132.0 535.6L1133.0 535.4L1134.0 535.2L1135.0 535.0L1136.0 534.8L1137.0 534.6L1138.0 534.4L1139.0 534.1L1140.0 533.9L1141.0 533.6L1142.0 533.3L1143.0 533.0L1144.0 532.7L1145.0 532.3L1146.0 532.0L1147.0 531.6L1148.0 531.1L1149.0 530.7L1150.0 530.2L1151.0 529.7L1152.0 529.2L1153.0 528.6L1154.0 528.0L1155.0 527.4L1156.0 526.7L1157.0 526.1L1158.0 525.3L1159.0 524.6L1160.0 523.7L1161.0 522.9L1162.0 522.0L1163.0 521.1L1164.0 520.1L1165.0 519.1L1166.0 518.0L1167.0 516.9L1168.0 515.7L1169.0 514.5L1170.0 513.2L1171.0 511.9L1172.0 510.5L1173.0 509.0L1174.0 507.5L1175.0 506.0L1176.0 504.4L1177.0 502.7L1178.0 500.9L1179.0 499.1L1180.0 497.3L1181.0 495.3L1182.0 493.3L1183.0 491.3L1184.0 489.2L1185.0 487.0L1186.0 484.7L1187.0 482.4L1188.0 480.0L1189.0 477.6L1190.0 475.1L1191.0 472.5L1192.0 469.9L1193.0 467.2L1194.0 464.4L1195.0 461.6L1196.0 458.8L1197.0 455.8L1198.0 452.9L1199.0 449.8L1200.0 446.8L1201.0 443.7L1202.0 440.5L1203.0 437.3L1204.0 434.0L1205.0 430.8L1206.0 427.5L1207.0 424.1L1208.0 420.8L1209.0 417.4L1210.0 414.0L1211.0 410.6L1212.0 407.2L1213.0 403.8L1214.0 400.3L1215.0 396.9L1216.0 393.5L1217.0 390.1L1218.0 386.7L1219.0 383.4L1220.0 380.1L1221.0 376.8L1222.0 373.5L1223.0 370.3L1224.0 367.2L1225.0 364.1L1226.0 361.1L1227.0 358.1L1228.0 355.2L1229.0 352.3L1230.0 349.6L1231.0 346.9L1232.0 344.4L1233.0 341.9L1234.0 339.5L1235.0 337.2L1236.0 335.0L1237.0 333.0L1238.0 331.0L1239.0 329.2L1240.0 327.5L1241.0 325.9L1242.0 324.4L1243.0 323.1L1244.0 321.9L1245.0 320.9L1246.0 320.0L1247.0 319.2L1248.0 318.5L1249.0 318.1L1250.0 317.7L1251.0 317.5L1252.0 317.4L1253.0 317.5L1254.0 317.7L1255.0 318.1L1256.0 318.6L1257.0 319.3L1258.0 320.1L1259.0 321.0L1260.0 322.1L1261.0 323.3L1262.0 324.6L1263.0 326.1L1264.0 327.7L1265.0 329.4L1266.0 331.3L1267.0 333.3L1268.0 335.3L1269.0 337.5L1270.0 339.8L1271.0 342.2L1272.0 344.7L1273.0 347.3L1274.0 350.0L1275.0 352.7L1276.0 355.6L1277.0 358.5L1278.0 361.4L1279.0 364.5L1280.0 367.6L1281.0 370.7L1282.0 373.9L1283.0 377.2L1284.0 380.5L1285.0 383.8L1286.0 387.1L1287.0 390.5L1288.0 393.9L1289.0 397.3L1290.0 400.7L1291.0 404.1L1292.0 407.5L1293.0 410.9L1294.0 414.3L1295.0 417.7L1296.0 421.0L1297.0 424.4L1298.0 427.7L1299.0 431.0L1300.0 434.2L1301.0 437.5L1302.0 440.6L1303.0 443.8L1304.0 446.9L1305.0 449.9L1306.0 452.9L1307.0 455.9L1308.0 458.8L1309.0 461.6L1310.0 464.4L1311.0 467.1L1312.0 469.8L1313.0 472.4L1314.0 474.9L1315.0 477.4L1316.0 479.8L1317.0 482.2L1318.0 484.5L1319.0 486.7L1320.0 488.9L1321.0 491.0L1322.0 493.0L1323.0 495.0L1324.0 496.9L1325.0 498.7L1326.0 500.5L1327.0 502.2L1328.0 503.9L1329.0 505.5L1330.0 507.0L1331.0 508.5L1332.0 509.9L1333.0 511.3L1334.0 512.6L1335.0 513.8L1336.0 515.0L1337.0 516.2L1338.0 517.3L1339.0 518.3L1340.0 519.3L1341.0 520.3L1342.0 521.2L1343.0 522.1L1344.0 522.9L1345.0 523.7L1346.0 524.4L1347.0 525.2L1348.0 525.8L1349.0 526.5L1350.0 527.1L1351.0 527.6L1352.0 528.2L1353.0 528.7L1354.0 529.2L1355.0 529.6L1356.0 530.1L1357.0 530.5L1358.0 530.9L1359.0 531.2L1360.0 531.6L1361.0 531.9L1362.0 532.2L1363.0 532.4L1364.0 532.7L1365.0 533.0L1366.0 533.2L1367.0 533.4L1368.0 533.6L1369.0 533.8L1370.0 533.9L1371.0 534.1L1372.0 534.3L1373.0 534.4L1374.0 534.5L1375.0 534.6L1376.0 534.8L1377.0 534.9L1378.0 535.0L1379.0 535.0L1380.0 535.1L1381.0 535.2L1382.0 535.3L1383.0 535.3L1384.0 535.4L1385.0 535.4L1386.0 535.5L1387.0 535.5L1388.0 535.6L1389.0 535.6L1390.0 535.6L1391.0 535.7L1392.0 535.7L1393.0 535.7L1394.0 535.7L1395.0 535.8L1396.0 535.8L1397.0 535.8L1398.0 535.8L1399.0 535.8L1400.0 535.8L1401.0 535.8L1402.0 535.9L1403.0 535.9L1404.0 535.9L1405.0 535.9L1406.0 535.9L1407.0 535.9L1408.0 535.9L1409.0 535.9L1410.0 535.9L1411.0 535.9L1412.0 535.9L1413.0 535.9L1414.0 535.9L1415.0 535.9L1416.0 535.9L1417.0 535.9L1418.0 535.9L1419.0 535.9L1420.0 535.9L1421.0 535.9L1422.0 535.9L1423.0 535.9L1424.0 535.8L1425.0 535.8L1426.0 535.8L1427.0 535.8L1428.0 535.8L1429.0 535.8L1430.0 535.8L1431.0 535.8L1432.0 535.8L1433.0 535.8L1434.0 535.8L1435.0 535.8L1436.0 535.8L1437.0 535.8L1438.0 535.8L1439.0 535.8L1440.0 535.8L1441.0 535.8L1442.0 535.8L1443.0 535.8L1444.0 535.7L1445.0 535.7L1446.0 535.7L1447.0 535.7L1448.0 535.7L1449.0 535.7L1450.0 535.7L1451.0 535.7L1452.0 535.7L1453.0 535.7L1454.0 535.7L1455.0 535.7L1456.0 535.7L1457.0 535.7L1458.0 535.7L1459.0 535.7L1460.0 535.7L1461.0 535.7L1462.0 535.6L1463.0 535.6L1464.0 535.6L1465.0 535.6L1466.0 535.6L1467.0 535.6L1468.0 535.6L1469.0 535.6L1470.0 535.6L1471.0 535.6L1472.0 535.6L1473.0 535.6L1474.0 535.6L1475.0 535.6L1476.0 535.6L1477.0 535.6L1478.0 535.6L1479.0 535.6L1480.0 535.5L1481.0 535.5L1482.0 535.5L1483.0 535.5L1484.0 535.5L1485.0 535.5L1486.0 535.5L1487.0 535.5L1488.0 535.5L1489.0 535.5L1490.0 535.5L1491.0 535.5L1492.0 535.5L1493.0 535.5L1494.0 535.5L1495.0 535.5L1496.0 535.5L1497.0 535.5L1498.0 535.4L1499.0 535.4L1500.0 535.4L1501.0 535.4L1502.0 535.4L1503.0 535.4L1504.0 535.4L1505.0 535.4L1506.0 535.4L1507.0 535.4L1508.0 535.4L1509.0 535.4L1510.0 535.4L1511.0 535.4L1512.0 535.4L1513.0 535.4L1514.0 535.4L1515.0 535.4L1516.0 535.3L1517.0 535.3L1518.0 535.3L1519.0 535.3L1520.0 535.3L1521.0 535.3L1522.0 535.3" fill="none" stroke="#ff6a00" stroke-width="3.8" stroke-dasharray="6.6 9.4" stroke-linecap="round" stroke-dashoffset="15.03"/>
<path d="M1110.0 537.6L1111.0 537.6L1112.0 537.6L1113.0 537.6L1114.0 537.6L1115.0 537.6L1116.0 537.6L1117.0 537.5L1118.0 537.5L1119.0 537.5L1120.0 537.5L1121.0 537.5L1122.0 537.5L1123.0 537.5L1124.0 537.5L1125.0 537.5L1126.0 537.5L1127.0 537.5L1128.0 537.5L1129.0 537.5L1130.0 537.5L1131.0 537.4L1132.0 537.4L1133.0 537.4L1134.0 537.4L1135.0 537.4L1136.0 537.4L1137.0 537.4L1138.0 537.4L1139.0 537.4L1140.0 537.4L1141.0 537.4L1142.0 537.4L1143.0 537.3L1144.0 537.3L1145.0 537.3L1146.0 537.3L1147.0 537.3L1148.0 537.3L1149.0 537.3L1150.0 537.3L1151.0 537.3L1152.0 537.2L1153.0 537.2L1154.0 537.2L1155.0 537.2L1156.0 537.2L1157.0 537.2L1158.0 537.2L1159.0 537.1L1160.0 537.1L1161.0 537.1L1162.0 537.1L1163.0 537.1L1164.0 537.1L1165.0 537.0L1166.0 537.0L1167.0 537.0L1168.0 537.0L1169.0 536.9L1170.0 536.9L1171.0 536.9L1172.0 536.9L1173.0 536.8L1174.0 536.8L1175.0 536.8L1176.0 536.8L1177.0 536.7L1178.0 536.7L1179.0 536.7L1180.0 536.6L1181.0 536.6L1182.0 536.6L1183.0 536.5L1184.0 536.5L1185.0 536.4L1186.0 536.4L1187.0 536.4L1188.0 536.3L1189.0 536.3L1190.0 536.2L1191.0 536.2L1192.0 536.1L1193.0 536.1L1194.0 536.0L1195.0 535.9L1196.0 535.9L1197.0 535.8L1198.0 535.7L1199.0 535.7L1200.0 535.6L1201.0 535.5L1202.0 535.5L1203.0 535.4L1204.0 535.3L1205.0 535.2L1206.0 535.1L1207.0 535.0L1208.0 534.9L1209.0 534.8L1210.0 534.7L1211.0 534.6L1212.0 534.5L1213.0 534.4L1214.0 534.3L1215.0 534.2L1216.0 534.0L1217.0 533.9L1218.0 533.8L1219.0 533.6L1220.0 533.5L1221.0 533.4L1222.0 533.2L1223.0 533.1L1224.0 532.9L1225.0 532.7L1226.0 532.6L1227.0 532.4L1228.0 532.2L1229.0 532.0L1230.0 531.8L1231.0 531.6L1232.0 531.4L1233.0 531.2L1234.0 531.0L1235.0 530.8L1236.0 530.6L1237.0 530.3L1238.0 530.1L1239.0 529.9L1240.0 529.6L1241.0 529.4L1242.0 529.1L1243.0 528.8L1244.0 528.6L1245.0 528.3L1246.0 528.0L1247.0 527.7L1248.0 527.4L1249.0 527.1L1250.0 526.8L1251.0 526.4L1252.0 526.1L1253.0 525.8L1254.0 525.4L1255.0 525.1L1256.0 524.7L1257.0 524.4L1258.0 524.0L1259.0 523.6L1260.0 523.2L1261.0 522.8L1262.0 522.4L1263.0 522.0L1264.0 521.6L1265.0 521.2L1266.0 520.8L1267.0 520.3L1268.0 519.9L1269.0 519.4L1270.0 519.0L1271.0 518.5L1272.0 518.0L1273.0 517.5L1274.0 517.1L1275.0 516.6L1276.0 516.1L1277.0 515.6L1278.0 515.1L1279.0 514.5L1280.0 514.0L1281.0 513.5L1282.0 513.0L1283.0 512.4L1284.0 511.9L1285.0 511.3L1286.0 510.8L1287.0 510.2L1288.0 509.7L1289.0 509.1L1290.0 508.5L1291.0 508.0L1292.0 507.4L1293.0 506.8L1294.0 506.2L1295.0 505.6L1296.0 505.0L1297.0 504.4L1298.0 503.9L1299.0 503.3L1300.0 502.7L1301.0 502.1L1302.0 501.5L1303.0 500.9L1304.0 500.3L1305.0 499.7L1306.0 499.1L1307.0 498.5L1308.0 497.9L1309.0 497.3L1310.0 496.7L1311.0 496.1L1312.0 495.5L1313.0 495.0L1314.0 494.4L1315.0 493.8L1316.0 493.2L1317.0 492.7L1318.0 492.1L1319.0 491.5L1320.0 491.0L1321.0 490.4L1322.0 489.9L1323.0 489.4L1324.0 488.9L1325.0 488.3L1326.0 487.8L1327.0 487.3L1328.0 486.8L1329.0 486.4L1330.0 485.9L1331.0 485.4L1332.0 485.0L1333.0 484.5L1334.0 484.1L1335.0 483.7L1336.0 483.3L1337.0 482.9L1338.0 482.5L1339.0 482.1L1340.0 481.7L1341.0 481.4L1342.0 481.0L1343.0 480.7L1344.0 480.4L1345.0 480.1L1346.0 479.8L1347.0 479.6L1348.0 479.3L1349.0 479.1L1350.0 478.8L1351.0 478.6L1352.0 478.4L1353.0 478.3L1354.0 478.1L1355.0 478.0L1356.0 477.8L1357.0 477.7L1358.0 477.6L1359.0 477.5L1360.0 477.5L1361.0 477.4L1362.0 477.4L1363.0 477.4L1364.0 477.4L1365.0 477.4L1366.0 477.4L1367.0 477.4L1368.0 477.5L1369.0 477.6L1370.0 477.7L1371.0 477.8L1372.0 477.9L1373.0 478.0L1374.0 478.2L1375.0 478.4L1376.0 478.6L1377.0 478.8L1378.0 479.0L1379.0 479.2L1380.0 479.5L1381.0 479.7L1382.0 480.0L1383.0 480.3L1384.0 480.6L1385.0 480.9L1386.0 481.2L1387.0 481.6L1388.0 481.9L1389.0 482.3L1390.0 482.7L1391.0 483.1L1392.0 483.5L1393.0 483.9L1394.0 484.3L1395.0 484.8L1396.0 485.2L1397.0 485.7L1398.0 486.1L1399.0 486.6L1400.0 487.1L1401.0 487.6L1402.0 488.1L1403.0 488.6L1404.0 489.1L1405.0 489.6L1406.0 490.1L1407.0 490.7L1408.0 491.2L1409.0 491.8L1410.0 492.3L1411.0 492.9L1412.0 493.4L1413.0 494.0L1414.0 494.6L1415.0 495.1L1416.0 495.7L1417.0 496.3L1418.0 496.9L1419.0 497.5L1420.0 498.0L1421.0 498.6L1422.0 499.2L1423.0 499.8L1424.0 500.4L1425.0 501.0L1426.0 501.6L1427.0 502.1L1428.0 502.7L1429.0 503.3L1430.0 503.9L1431.0 504.5L1432.0 505.0L1433.0 505.6L1434.0 506.2L1435.0 506.8L1436.0 507.3L1437.0 507.9L1438.0 508.4L1439.0 509.0L1440.0 509.6L1441.0 510.1L1442.0 510.6L1443.0 511.2L1444.0 511.7L1445.0 512.2L1446.0 512.7L1447.0 513.3L1448.0 513.8L1449.0 514.3L1450.0 514.8L1451.0 515.3L1452.0 515.7L1453.0 516.2L1454.0 516.7L1455.0 517.2L1456.0 517.6L1457.0 518.1L1458.0 518.5L1459.0 519.0L1460.0 519.4L1461.0 519.8L1462.0 520.2L1463.0 520.6L1464.0 521.0L1465.0 521.4L1466.0 521.8L1467.0 522.2L1468.0 522.6L1469.0 522.9L1470.0 523.3L1471.0 523.7L1472.0 524.0L1473.0 524.3L1474.0 524.7L1475.0 525.0L1476.0 525.3L1477.0 525.6L1478.0 525.9L1479.0 526.2L1480.0 526.5L1481.0 526.8L1482.0 527.1L1483.0 527.3L1484.0 527.6L1485.0 527.8L1486.0 528.1L1487.0 528.3L1488.0 528.6L1489.0 528.8L1490.0 529.0L1491.0 529.2L1492.0 529.4L1493.0 529.7L1494.0 529.9L1495.0 530.0L1496.0 530.2L1497.0 530.4L1498.0 530.6L1499.0 530.8L1500.0 530.9L1501.0 531.1L1502.0 531.2L1503.0 531.4L1504.0 531.5L1505.0 531.7L1506.0 531.8L1507.0 532.0L1508.0 532.1L1509.0 532.2L1510.0 532.3L1511.0 532.4L1512.0 532.6L1513.0 532.7L1514.0 532.8L1515.0 532.9L1516.0 533.0L1517.0 533.1L1518.0 533.1L1519.0 533.2L1520.0 533.3L1521.0 533.4L1522.0 533.5" fill="none" stroke="#ff00ff" stroke-width="3.8" stroke-dasharray="6.6 9.4" stroke-linecap="round" stroke-dashoffset="0.00"/>
<rect x="1008.3" y="60.2" width="646.7" height="522.3" fill="none" stroke="#000" stroke-width="3.4" stroke-linejoin="round"/>
<line x1="1008.3" y1="582.5" x2="1008.3" y2="592.5" stroke="#000" stroke-width="3.4"/>
<text transform="translate(1008.3,630.6) scale(0.93,1)" class="tk" text-anchor="middle">526</text>
<line x1="1062.2" y1="582.5" x2="1062.2" y2="587.5" stroke="#000" stroke-width="3.4"/>
<line x1="1116.1" y1="582.5" x2="1116.1" y2="592.5" stroke="#000" stroke-width="3.4"/>
<text transform="translate(1116.1,630.6) scale(0.93,1)" class="tk" text-anchor="middle">528</text>
<line x1="1170.0" y1="582.5" x2="1170.0" y2="587.5" stroke="#000" stroke-width="3.4"/>
<line x1="1223.9" y1="582.5" x2="1223.9" y2="592.5" stroke="#000" stroke-width="3.4"/>
<text transform="translate(1223.9,630.6) scale(0.93,1)" class="tk" text-anchor="middle">530</text>
<line x1="1277.8" y1="582.5" x2="1277.8" y2="587.5" stroke="#000" stroke-width="3.4"/>
<line x1="1331.6" y1="582.5" x2="1331.6" y2="592.5" stroke="#000" stroke-width="3.4"/>
<text transform="translate(1331.6,630.6) scale(0.93,1)" class="tk" text-anchor="middle">532</text>
<line x1="1385.5" y1="582.5" x2="1385.5" y2="587.5" stroke="#000" stroke-width="3.4"/>
<line x1="1439.4" y1="582.5" x2="1439.4" y2="592.5" stroke="#000" stroke-width="3.4"/>
<text transform="translate(1439.4,630.6) scale(0.93,1)" class="tk" text-anchor="middle">534</text>
<line x1="1493.3" y1="582.5" x2="1493.3" y2="587.5" stroke="#000" stroke-width="3.4"/>
<line x1="1547.2" y1="582.5" x2="1547.2" y2="592.5" stroke="#000" stroke-width="3.4"/>
<text transform="translate(1547.2,630.6) scale(0.93,1)" class="tk" text-anchor="middle">536</text>
<line x1="1601.1" y1="582.5" x2="1601.1" y2="587.5" stroke="#000" stroke-width="3.4"/>
<line x1="1655.0" y1="582.5" x2="1655.0" y2="592.5" stroke="#000" stroke-width="3.4"/>
<text transform="translate(1655.0,630.6) scale(0.93,1)" class="tk" text-anchor="middle">538</text>
<text transform="translate(1332.1,684.5) scale(0.95,1)" class="ax" text-anchor="middle">Binding Energy (eV)</text>
<line x1="570.6" y1="157.4" x2="642" y2="157.4" stroke="#0000ff" stroke-width="3.6" stroke-dasharray="6.6 9.5" stroke-linecap="round"/>
<text x="652.5" y="168.7" class="lg">O<tspan class="sb" dy="8.3">L</tspan></text>
<line x1="570.6" y1="205.0" x2="642" y2="205.0" stroke="#ff6a00" stroke-width="3.6" stroke-dasharray="6.6 9.5" stroke-linecap="round"/>
<text x="652.5" y="216.3" class="lg">O<tspan class="sb" dy="8.3">V</tspan></text>
<line x1="570.6" y1="252.6" x2="642" y2="252.6" stroke="#ff00ff" stroke-width="3.6" stroke-dasharray="6.6 9.5" stroke-linecap="round"/>
<text x="652.5" y="263.9" class="lg">O<tspan class="sb" dy="8.3">C</tspan></text>
<line x1="1423.5" y1="157.4" x2="1494.9" y2="157.4" stroke="#0000ff" stroke-width="3.6" stroke-dasharray="6.6 9.5" stroke-linecap="round"/>
<text x="1505.4" y="168.7" class="lg">O<tspan class="sb" dy="8.3">L</tspan></text>
<line x1="1423.5" y1="205.0" x2="1494.9" y2="205.0" stroke="#ff6a00" stroke-width="3.6" stroke-dasharray="6.6 9.5" stroke-linecap="round"/>
<text x="1505.4" y="216.3" class="lg">O<tspan class="sb" dy="8.3">V</tspan></text>
<line x1="1423.5" y1="252.6" x2="1494.9" y2="252.6" stroke="#ff00ff" stroke-width="3.6" stroke-dasharray="6.6 9.5" stroke-linecap="round"/>
<text x="1505.4" y="263.9" class="lg">O<tspan class="sb" dy="8.3">C</tspan></text>
<text transform="translate(40.4,113) scale(1.02,1)" class="pl">(a)</text>
<text transform="translate(896,113) scale(1.02,1)" class="pl">(b)</text>
<text transform="translate(183.7,114.8) scale(0.96,1)" class="o1">O 1s</text>
<text transform="translate(1030.3,114) scale(0.96,1)" class="o1">O 1s</text>
<text transform="translate(110.9,305.3) rotate(-90) scale(0.956,1)" class="ax" text-anchor="middle">Intensity (a.u.)</text>
<text transform="translate(963.9,305.3) rotate(-90) scale(0.956,1)" class="ax" text-anchor="middle">Intensity (a.u.)</text>
</g>
</svg>
</body></html>
